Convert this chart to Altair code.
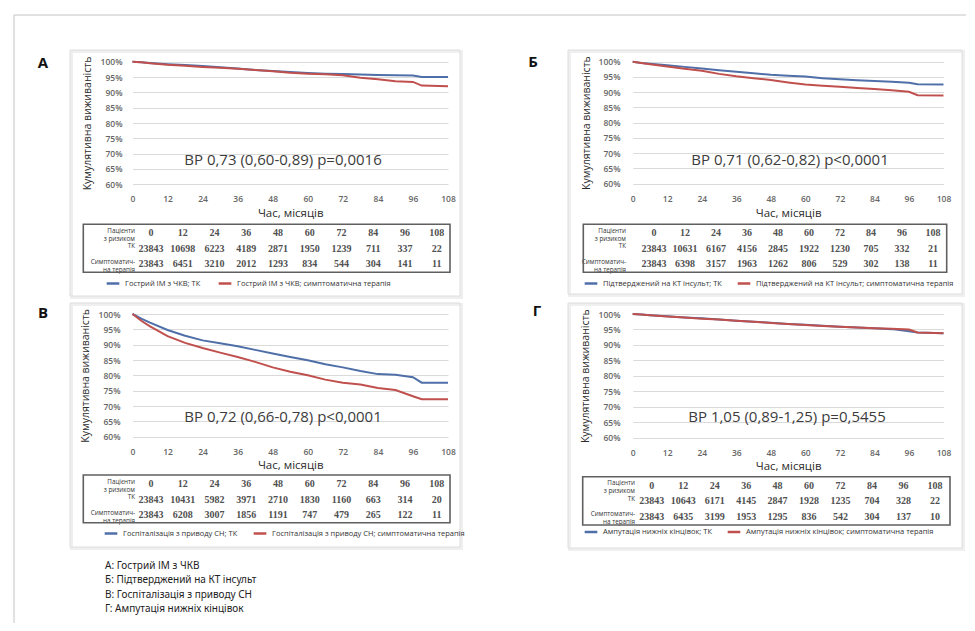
import altair as alt
import pandas as pd

# ---------------- data ----------------
months = [0, 3, 6, 12, 18, 24, 30, 36, 42, 48, 54, 60, 66, 72, 78, 84, 90, 96, 99, 108]

a_tk  = [100, 99.8, 99.6, 99.2, 98.9, 98.6, 98.2, 97.8, 97.3, 97.0, 96.6, 96.3, 96.1, 96.0, 95.8, 95.7, 95.6, 95.5, 95.0, 95.0]
a_sym = [100, 99.8, 99.5, 99.0, 98.7, 98.3, 98.0, 97.7, 97.3, 96.9, 96.4, 96.1, 95.9, 95.6, 94.8, 94.3, 93.6, 93.4, 92.2, 92.0]
b_tk  = [100, 99.6, 99.3, 98.8, 98.3, 97.8, 97.2, 96.7, 96.2, 95.7, 95.4, 95.1, 94.6, 94.2, 93.9, 93.7, 93.4, 93.1, 92.6, 92.5]
b_sym = [100, 99.6, 99.2, 98.4, 97.7, 97.0, 96.0, 95.2, 94.6, 94.0, 93.2, 92.5, 92.1, 91.8, 91.4, 91.0, 90.6, 90.1, 89.0, 88.9]
c_tk  = [100, 98.5, 97.2, 94.8, 92.9, 91.4, 90.5, 89.5, 88.3, 87.1, 86.0, 84.9, 83.6, 82.6, 81.4, 80.4, 80.2, 79.4, 77.6, 77.6]
c_sym = [100, 97.8, 96.0, 92.8, 90.6, 88.9, 87.4, 86.0, 84.4, 82.6, 81.2, 80.0, 78.6, 77.6, 77.0, 75.9, 75.2, 73.2, 72.2, 72.2]
d_tk  = [100, 99.8, 99.6, 99.3, 98.9, 98.6, 98.2, 97.8, 97.5, 97.2, 96.8, 96.5, 96.2, 95.9, 95.6, 95.4, 95.1, 94.4, 94.0, 93.8]
d_sym = [100, 99.8, 99.6, 99.2, 98.9, 98.5, 98.2, 97.8, 97.5, 97.1, 96.8, 96.4, 96.1, 95.9, 95.6, 95.4, 95.2, 95.0, 94.0, 93.8]

table_months = [0, 12, 24, 36, 48, 60, 72, 84, 96, 108]
a_risk_tk  = [23843, 10698, 6223, 4189, 2871, 1950, 1239, 711, 337, 22]
a_risk_sym = [23843, 6451, 3210, 2012, 1293, 834, 544, 304, 141, 11]
b_risk_tk  = [23843, 10631, 6167, 4156, 2845, 1922, 1230, 705, 332, 21]
b_risk_sym = [23843, 6398, 3157, 1963, 1262, 806, 529, 302, 138, 11]
c_risk_tk  = [23843, 10431, 5982, 3971, 2710, 1830, 1160, 663, 314, 20]
c_risk_sym = [23843, 6208, 3007, 1856, 1191, 747, 479, 265, 122, 11]
d_risk_tk  = [23843, 10643, 6171, 4145, 2847, 1928, 1235, 704, 328, 22]
d_risk_sym = [23843, 6435, 3199, 1953, 1295, 836, 542, 304, 137, 10]

row_labels = ["Пацієнти\nз ризиком", "ТК", "Симптоматич-\nна терапія"]

a_series = ["Гострий ІМ  з ЧКВ; ТК", "Гострий ІМ  з ЧКВ; симптоматична терапія"]
b_series = ["Підтверджений на КТ інсульт; ТК", "Підтверджений на КТ інсульт; симптоматична терапія"]
c_series = ["Госпіталізація з приводу СН; ТК", "Госпіталізація з приводу СН; симптоматична терапія"]
d_series = ["Ампутація нижніх кінцівок; ТК", "Ампутація нижніх кінцівок; симптоматична терапія"]

hr_texts = ["ВР 0,73 (0,60-0,89) p=0,0016", "ВР 0,71 (0,62-0,82) p<0,0001",
            "ВР 0,72 (0,66-0,78) p<0,0001", "ВР 1,05 (0,89-1,25) p=0,5455"]
letters = ["А", "Б", "В", "Г"]
footer_lines = ["А: Гострий ІМ  з ЧКВ", "Б: Підтверджений на КТ інсульт",
                "В: Госпіталізація з приводу СН", "Г: Ампутація нижніх кінцівок"]

y_ticks = [0.60, 0.65, 0.70, 0.75, 0.80, 0.85, 0.90, 0.95, 1.00]
x_ticks = [0, 12, 24, 36, 48, 60, 72, 84, 96, 108]

# ---------------- layout (view pixels) ----------------
W, H = 959, 615
BLUE, RED = "#4F6FA8", "#C0504D"
SANS = "Open Sans"
TICK_COLOR = "#666666"

panels = [
    dict(tk=a_tk, sym=a_sym, rtk=a_risk_tk, rsym=a_risk_sym, series=a_series, hr=hr_texts[0], letter=letters[0],
         xr=[124.5, 440], yr=[176.3, 53.7], yax=117, ytitle=79, xtitle_y=205,
         frame=(62, 42, 452, 288), letter_xy=(35, 55), hr_xy=(275, 152),
         box=(75.3, 216.3, 442, 264.3), rows=[225.3, 256.3], cols=[143, 428.7], rlab=127,
         leg=(97, 267.5)),
    dict(tk=b_tk, sym=b_sym, rtk=b_risk_tk, rsym=b_risk_sym, series=b_series, hr=hr_texts[1], letter=letters[1],
         xr=[624.7, 935.5], yr=[175.5, 53.7], yax=615, ytitle=578, xtitle_y=205,
         frame=(560, 42, 954, 286), letter_xy=(525, 54), hr_xy=(782, 152),
         box=(575.3, 216.3, 938.7, 264.3), rows=[225.3, 256.3], cols=[646, 925], rlab=618,
         leg=(575, 267.5)),
    dict(tk=c_tk, sym=c_sym, rtk=c_risk_tk, rsym=c_risk_sym, series=c_series, hr=hr_texts[2], letter=letters[2],
         xr=[124.5, 440], yr=[428.7, 306], yax=115, ytitle=77, xtitle_y=457.5,
         frame=(62, 295, 452, 539), letter_xy=(35, 305), hr_xy=(275, 409),
         box=(75.3, 467, 442, 514.7), rows=[476, 507], cols=[143, 428.7], rlab=127,
         leg=(95, 517.5)),
    dict(tk=d_tk, sym=d_sym, rtk=d_risk_tk, rsym=d_risk_sym, series=d_series, hr=hr_texts[3], letter=letters[3],
         xr=[624.7, 935.5], yr=[429.5, 306], yax=615, ytitle=577, xtitle_y=458.7,
         frame=(560, 295, 954, 540), letter_xy=(529, 303), hr_xy=(779, 409),
         box=(574.7, 468.7, 942, 517), rows=[477.7, 508.7], cols=[643.7, 927], rlab=627,
         leg=(575, 516)),
]

one = pd.DataFrame({"k": [0]})
layers = []

# outer border
layers.append(alt.Chart(one).mark_rule(color="#c4c4c4", strokeWidth=1).encode(
    x=alt.value(6), x2=alt.value(958), y=alt.value(7)))
layers.append(alt.Chart(one).mark_rule(color="#c4c4c4", strokeWidth=1).encode(
    x=alt.value(6), y=alt.value(7), y2=alt.value(615)))

for p in panels:
    x0, y0, x1, y1 = p["frame"]
    # panel frame (soft shadow + border)
    layers.append(alt.Chart(one).mark_rect(fill="none", stroke="#efefef", strokeWidth=3).encode(
        x=alt.value(x0 + 1.5), x2=alt.value(x1 + 1.5), y=alt.value(y0 + 1.5), y2=alt.value(y1 + 1.5)))
    layers.append(alt.Chart(one).mark_rect(fill="none", stroke="#dedede", strokeWidth=1).encode(
        x=alt.value(x0), x2=alt.value(x1), y=alt.value(y0), y2=alt.value(y1)))

for p in panels:
    n = len(months)
    df = pd.DataFrame({
        "month": months + months,
        "surv": [v / 100 for v in p["tk"]] + [v / 100 for v in p["sym"]],
        "series": [p["series"][0]] * n + [p["series"][1]] * n,
    })
    ymid = (p["yr"][0] + p["yr"][1]) / 2
    xmid = (p["xr"][0] + p["xr"][1]) / 2
    ax_y = p["yr"][0]
    lx, ly = p["leg"]
    curves = alt.Chart(df).mark_line(strokeWidth=2, interpolate="linear").encode(
        x=alt.X("month:Q",
                scale=alt.Scale(domain=[0, 108], range=p["xr"], nice=False, zero=False),
                axis=alt.Axis(orient="bottom", offset=ax_y - H, values=x_ticks, grid=False,
                              domain=False, ticks=False, tickSize=0, labelPadding=14.5,
                              labelBaseline="middle", labelFlush=False, labelOverlap=False,
                              labelFont=SANS, labelFontSize=8.5, labelFontWeight=600,
                              labelColor=TICK_COLOR,
                              title="Час, місяців", titleFont=SANS, titleFontSize=11.5,
                              titleFontWeight="normal", titleColor="#2b2b2b",
                              titleX=xmid, titleY=p["xtitle_y"] - ax_y,
                              titleAlign="center", titleBaseline="middle", zindex=1)),
        y=alt.Y("surv:Q",
                scale=alt.Scale(domain=[0.6, 1.0], range=p["yr"], nice=False, zero=False),
                axis=alt.Axis(orient="left", offset=-p["yax"], values=y_ticks, format=".0%",
                              grid=True, gridColor="#dadada", gridWidth=1,
                              domain=False, ticks=False, tickSize=0, labelPadding=3,
                              labelOverlap=False, labelFont=SANS, labelFontSize=8.5,
                              labelFontWeight=600, labelColor=TICK_COLOR,
                              title="Кумулятивна виживаність", titleFont=SANS, titleFontSize=10.5,
                              titleFontWeight="normal", titleColor="#2b2b2b", titleAngle=-90,
                              titleX=p["ytitle"] - p["yax"], titleY=ymid,
                              titleAlign="center", titleBaseline="middle", zindex=0)),
        color=alt.Color("series:N",
                        scale=alt.Scale(domain=p["series"], range=[BLUE, RED]),
                        legend=alt.Legend(orient="none", legendX=lx, legendY=ly,
                                          direction="horizontal", title=None, padding=0,
                                          symbolType="stroke", symbolStrokeWidth=2.5,
                                          symbolSize=160, labelFont=SANS, labelFontSize=7.5,
                                          labelColor="#333333", labelLimit=600,
                                          labelOffset=4, columnPadding=10)),
        order="month:Q",
    )
    layers.append(curves)

    # number-at-risk table
    rows = []
    for i, m in enumerate(table_months):
        rows.append({"col": m, "row": "h", "txt": str(m)})
        rows.append({"col": m, "row": "tk", "txt": str(p["rtk"][i])})
        rows.append({"col": m, "row": "sym", "txt": str(p["rsym"][i])})
    tdf = pd.DataFrame(rows)
    ldf = pd.DataFrame({"row": ["h", "tk", "sym"], "lab": row_labels})
    yrow = alt.Y("row:N", scale=alt.Scale(type="point", domain=["h", "tk", "sym"],
                                          range=p["rows"], padding=0), axis=None)
    nums = alt.Chart(tdf).mark_text(font="Liberation Serif", fontSize=10, fontWeight="bold",
                                    color="#505050", baseline="middle").encode(
        x=alt.X("col:Q", scale=alt.Scale(domain=[0, 108], range=p["cols"], nice=False, zero=False),
                axis=None),
        y=yrow,
        text="txt:N",
    )
    labs = alt.Chart(ldf).mark_text(font=SANS, fontSize=6.3, color="#333333", align="right",
                                    baseline="middle", lineBreak="\n", lineHeight=8,
                                    dy=-2.5).encode(
        x=alt.value(p["rlab"]),
        y=yrow,
        text="lab:N",
    )
    layers.append(alt.layer(nums, labs))

    bx0, by0, bx1, by1 = p["box"]
    layers.append(alt.Chart(one).mark_rect(fill="none", stroke="#606060", strokeWidth=1.6).encode(
        x=alt.value(bx0), x2=alt.value(bx1), y=alt.value(by0), y2=alt.value(by1)))

    layers.append(alt.Chart(pd.DataFrame({"t": [p["hr"]]})).mark_text(
        font=SANS, fontSize=15, color="#3c3c3c", align="center", baseline="middle").encode(
        x=alt.value(p["hr_xy"][0]), y=alt.value(p["hr_xy"][1]), text="t:N"))
    layers.append(alt.Chart(pd.DataFrame({"t": [p["letter"]]})).mark_text(
        font=SANS, fontSize=15, fontWeight="bold", color="#111111", align="center",
        baseline="middle").encode(
        x=alt.value(p["letter_xy"][0]), y=alt.value(p["letter_xy"][1]), text="t:N"))

layers.append(alt.Chart(pd.DataFrame({"t": ["\n".join(footer_lines)]})).mark_text(
    font="Noto Sans", fontSize=10, color="#222222", align="left", baseline="top",
    lineBreak="\n", lineHeight=14.4).encode(
    x=alt.value(97), y=alt.value(553), text="t:N"))

chart = alt.layer(*layers).resolve_scale(
    x="independent", y="independent", color="independent"
).properties(width=W, height=H, padding=0).configure_view(stroke=None)

chart.save("out.html", embed_options={"renderer": "svg", "actions": False})
